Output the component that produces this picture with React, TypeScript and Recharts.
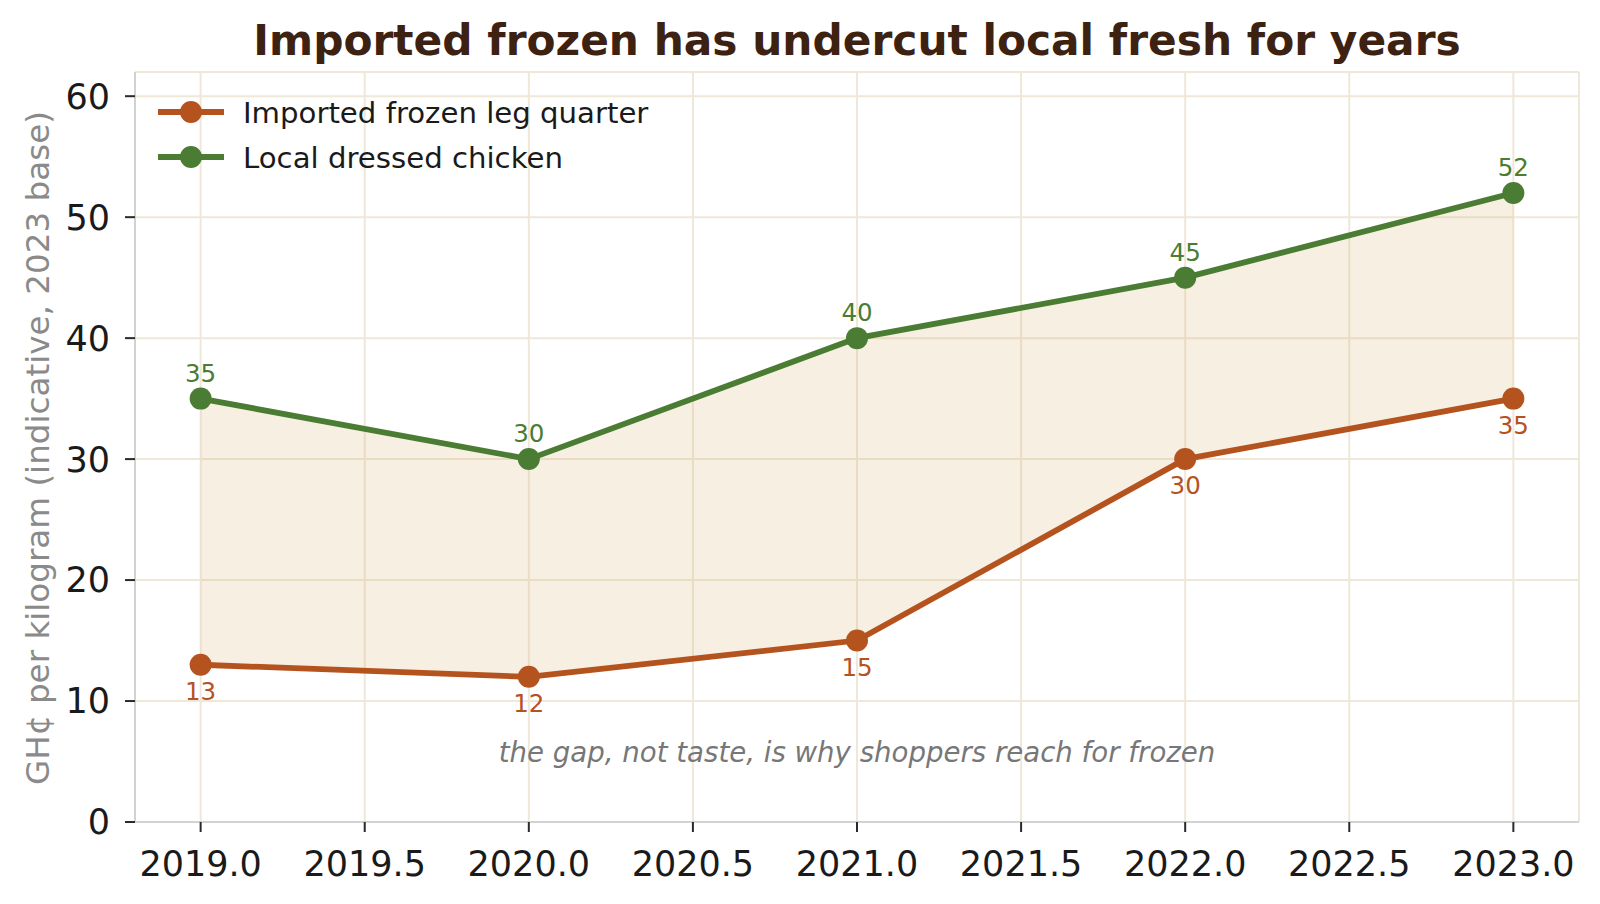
import React from 'react';
import {
  ComposedChart,
  Line,
  Area,
  XAxis,
  YAxis,
  CartesianGrid,
  ReferenceDot,
} from 'recharts';

// Retail chicken prices, GH¢ per kilogram
const years = [2019, 2020, 2021, 2022, 2023];
const importedFrozen = [13, 12, 15, 30, 35];
const localDressed = [35, 30, 40, 45, 52];

const xTicks = [2019, 2019.5, 2020, 2020.5, 2021, 2021.5, 2022, 2022.5, 2023];
const yTicks = [0, 10, 20, 30, 40, 50, 60];
const xDomain = [2018.8, 2023.2];
const yDomain = [0, 62];

const seriesNames = ['Imported frozen leg quarter', 'Local dressed chicken'];
const chartTitle = 'Imported frozen has undercut local fresh for years';
const yAxisTitle = 'GH¢ per kilogram (indicative, 2023 base)';
const noteText = 'the gap, not taste, is why shoppers reach for frozen';
const noteYear = 2021;
const noteValue = 6;

const ORANGE = '#b5531f';
const GREEN = '#4a7c33';
const FILL = '#d9b77a';
const GRID = '#efe7d8';
const SPINE = '#d2d2d2';
const FONT = '"DejaVu Sans", Verdana, sans-serif';

const W = 1600;
const H = 904;

const data = years.map((year, i) => ({
  year,
  imported: importedFrozen[i],
  local: localDressed[i],
  gap: [importedFrozen[i], localDressed[i]],
}));

// Marker plus its value label, above or below the point
const makeDot = (color: string, above: boolean) => (props: any) => {
  const { cx, cy, value, index } = props;
  if (cx == null || cy == null) return <g key={`dot-${index}`} />;
  const labelY = above ? cy - 17 : cy + 35;
  return (
    <g key={`dot-${index}`}>
      <circle cx={cx} cy={cy} r={11} fill={color} />
      <text
        x={cx}
        y={labelY}
        textAnchor="middle"
        fill={color}
        fontSize={24.5}
        fontFamily={FONT}
      >
        {value}
      </text>
    </g>
  );
};

const noteShape = (props: any) => {
  const { cx, cy } = props;
  return (
    <text
      x={cx}
      y={cy + 13}
      textAnchor="middle"
      fill="#777777"
      fontSize={27.6}
      fontStyle="italic"
      fontFamily={FONT}
    >
      {noteText}
    </text>
  );
};

const legendRows = [
  { name: seriesNames[0], color: ORANGE, y: 112 },
  { name: seriesNames[1], color: GREEN, y: 157 },
];

export default function App() {
  const tickStyle = { fill: '#1a1a1a', fontSize: 35, fontFamily: FONT };
  return (
    <div
      style={{
        position: 'absolute',
        left: 0,
        top: 0,
        width: W,
        height: H,
        background: '#ffffff',
      }}
    >
      <ComposedChart
        width={W}
        height={H}
        data={data}
        margin={{ top: 72, right: 21, bottom: 0, left: 0 }}
      >
        <CartesianGrid stroke={GRID} strokeWidth={2} />
        <XAxis
          type="number"
          dataKey="year"
          domain={xDomain}
          ticks={xTicks}
          interval={0}
          allowDataOverflow
          height={82}
          tickFormatter={(v: number) => v.toFixed(1)}
          tick={tickStyle}
          tickSize={10}
          tickMargin={19}
          axisLine={{ stroke: SPINE, strokeWidth: 2 }}
          tickLine={{ stroke: '#2a2a2a', strokeWidth: 2 }}
        />
        <YAxis
          type="number"
          domain={yDomain}
          ticks={yTicks}
          interval={0}
          allowDataOverflow
          width={135}
          tick={tickStyle}
          tickSize={10}
          tickMargin={15}
          axisLine={{ stroke: SPINE, strokeWidth: 2 }}
          tickLine={{ stroke: '#2a2a2a', strokeWidth: 2 }}
        />
        <Area
          dataKey="gap"
          stroke="none"
          fill={FILL}
          fillOpacity={0.22}
          isAnimationActive={false}
          activeDot={false}
        />
        <Line
          dataKey="imported"
          name={seriesNames[0]}
          stroke={ORANGE}
          strokeWidth={5.8}
          dot={makeDot(ORANGE, false)}
          activeDot={false}
          isAnimationActive={false}
        />
        <Line
          dataKey="local"
          name={seriesNames[1]}
          stroke={GREEN}
          strokeWidth={5.8}
          dot={makeDot(GREEN, true)}
          activeDot={false}
          isAnimationActive={false}
        />
        <ReferenceDot
          x={noteYear}
          y={noteValue}
          r={0}
          shape={noteShape}
          ifOverflow="visible"
        />
      </ComposedChart>
      <svg
        width={W}
        height={H}
        style={{ position: 'absolute', left: 0, top: 0, pointerEvents: 'none' }}
      >
        <text
          x={857}
          y={55}
          textAnchor="middle"
          fontSize={42.3}
          fontWeight="bold"
          fill="#3d2212"
          fontFamily={FONT}
        >
          {chartTitle}
        </text>
        <text
          transform="translate(49, 448) rotate(-90)"
          textAnchor="middle"
          fontSize={32.6}
          fill="#8a8a8a"
          fontFamily={FONT}
        >
          {yAxisTitle}
        </text>
        {legendRows.map((row) => (
          <g key={row.name}>
            <line
              x1={158}
              x2={224}
              y1={row.y}
              y2={row.y}
              stroke={row.color}
              strokeWidth={6}
            />
            <circle cx={191} cy={row.y} r={11} fill={row.color} />
            <text
              x={243}
              y={row.y + 10.5}
              fontSize={29.2}
              fill="#1a1a1a"
              fontFamily={FONT}
            >
              {row.name}
            </text>
          </g>
        ))}
      </svg>
    </div>
  );
}
